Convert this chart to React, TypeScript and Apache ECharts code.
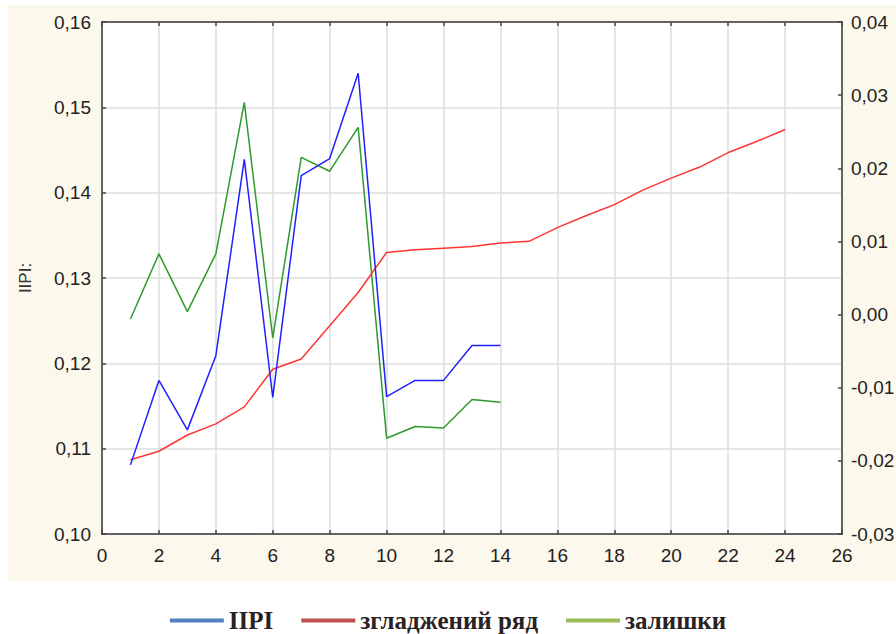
import React, { useEffect, useRef } from "react";
import * as echarts from "echarts";

const xBlueGreen = [1, 2, 3, 4, 5, 6, 7, 8, 9, 10, 11, 12, 13, 14];
const iipiValues = [0.1081, 0.118, 0.1122, 0.1209, 0.1439, 0.116, 0.142, 0.144, 0.154, 0.1161, 0.118, 0.118, 0.1221, 0.1221];
const residualValues = [-0.0006, 0.0083, 0.0004, 0.0083, 0.029, -0.0032, 0.0215, 0.0196, 0.0256, -0.0169, -0.0153, -0.0155, -0.0116, -0.012];
const xSmooth = [1, 2, 3, 4, 5, 6, 7, 8, 9, 10, 11, 12, 13, 14, 15, 16, 17, 18, 19, 20, 21, 22, 23, 24];
const smoothValues = [0.1087, 0.1097, 0.1116, 0.1129, 0.1149, 0.1193, 0.1205, 0.1244, 0.1283, 0.133, 0.1333, 0.1335, 0.1337, 0.1341, 0.1343, 0.1359, 0.1373, 0.1386, 0.1403, 0.1417, 0.143, 0.1447, 0.146, 0.1474];
const seriesNames = ["IIPI", "згладжений ряд", "залишки"];
const axisName = "IIPI:";

const fmt = (v: number) => (Math.round(v * 100) / 100).toFixed(2).replace(".", ",");

export default function App() {
  const ref = useRef<HTMLDivElement>(null);
  useEffect(() => {
    if (!ref.current) return;
    const chart = echarts.init(ref.current, null, { renderer: "svg" });
    const labelStyle = { fontFamily: "Liberation Sans, Arial", fontSize: 19, color: "#222" };
    const axisLine = { show: true, onZero: false, lineStyle: { color: "#444", width: 1.5 } };
    const tick = { show: true, inside: true, length: 4, lineStyle: { color: "#444", width: 1.5 } };
    chart.setOption({
      animation: false,
      grid: {
        left: 102,
        right: 54,
        top: 22,
        bottom: 100,
        show: true,
        backgroundColor: "#fff",
        borderColor: "#444",
        borderWidth: 1.5,
        containLabel: false,
        outerBoundsMode: "none",
      },
      legend: {
        top: 603,
        left: "center",
        icon: "rect",
        itemWidth: 54,
        itemHeight: 4,
        itemGap: 28,
        textStyle: { fontFamily: "Liberation Serif, Times New Roman", fontSize: 25, fontWeight: "bold", color: "#2a2222" },
        data: [
          { name: seriesNames[0], itemStyle: { color: "#4F81BD" } },
          { name: seriesNames[1], itemStyle: { color: "#C0504D" } },
          { name: seriesNames[2], itemStyle: { color: "#9BBB59" } },
        ],
      },
      xAxis: [
        {
          type: "value",
          position: "bottom",
          min: 0,
          max: 26,
          interval: 2,
          axisLine,
          axisTick: tick,
          axisLabel: { ...labelStyle, margin: 12 },
          splitLine: { show: true, lineStyle: { color: "#dcdcdc", width: 1.5 } },
        },
        {
          type: "value",
          position: "top",
          min: 0,
          max: 26,
          interval: 2,
          axisLine,
          axisTick: tick,
          axisLabel: { show: false },
          splitLine: { show: false },
        },
      ],
      yAxis: [
        {
          type: "value",
          position: "left",
          min: 0.1,
          max: 0.16,
          interval: 0.01,
          name: axisName,
          nameLocation: "middle",
          nameGap: 68,
          nameTextStyle: { fontFamily: "Liberation Sans, Arial", fontSize: 17, color: "#333" },
          axisLine,
          axisTick: tick,
          axisLabel: { ...labelStyle, margin: 11, formatter: fmt },
          splitLine: { show: true, lineStyle: { color: "#dcdcdc", width: 1.5 } },
        },
        {
          type: "value",
          position: "right",
          min: -0.03,
          max: 0.04,
          interval: 0.01,
          axisLine,
          axisTick: tick,
          axisLabel: { ...labelStyle, margin: 9, formatter: fmt },
          splitLine: { show: false },
        },
      ],
      series: [
        {
          name: seriesNames[0],
          type: "line",
          xAxisIndex: 0,
          yAxisIndex: 0,
          showSymbol: false,
          symbol: "none",
          lineStyle: { color: "#2020FF", width: 1.5 },
          itemStyle: { color: "#2020FF" },
          data: xBlueGreen.map((x, i) => [x, iipiValues[i]]),
          z: 3,
        },
        {
          name: seriesNames[1],
          type: "line",
          xAxisIndex: 0,
          yAxisIndex: 0,
          showSymbol: false,
          symbol: "none",
          lineStyle: { color: "#FF3535", width: 1.5 },
          itemStyle: { color: "#FF3535" },
          data: xSmooth.map((x, i) => [x, smoothValues[i]]),
          z: 2,
        },
        {
          name: seriesNames[2],
          type: "line",
          xAxisIndex: 0,
          yAxisIndex: 1,
          showSymbol: false,
          symbol: "none",
          lineStyle: { color: "#2E9A2E", width: 1.5 },
          itemStyle: { color: "#2E9A2E" },
          data: xBlueGreen.map((x, i) => [x, residualValues[i]]),
          z: 2,
        },
      ],
    });
    return () => chart.dispose();
  }, []);
  return (
    <div style={{ position: "fixed", left: 0, top: 0, width: 896, height: 634, background: "#fff" }}>
      <div style={{ position: "absolute", left: 8, top: 5, width: 888, height: 576, background: "#FDF8EC" }} />
      <div ref={ref} style={{ position: "absolute", left: 0, top: 0, width: 896, height: 634 }} />
    </div>
  );
}
